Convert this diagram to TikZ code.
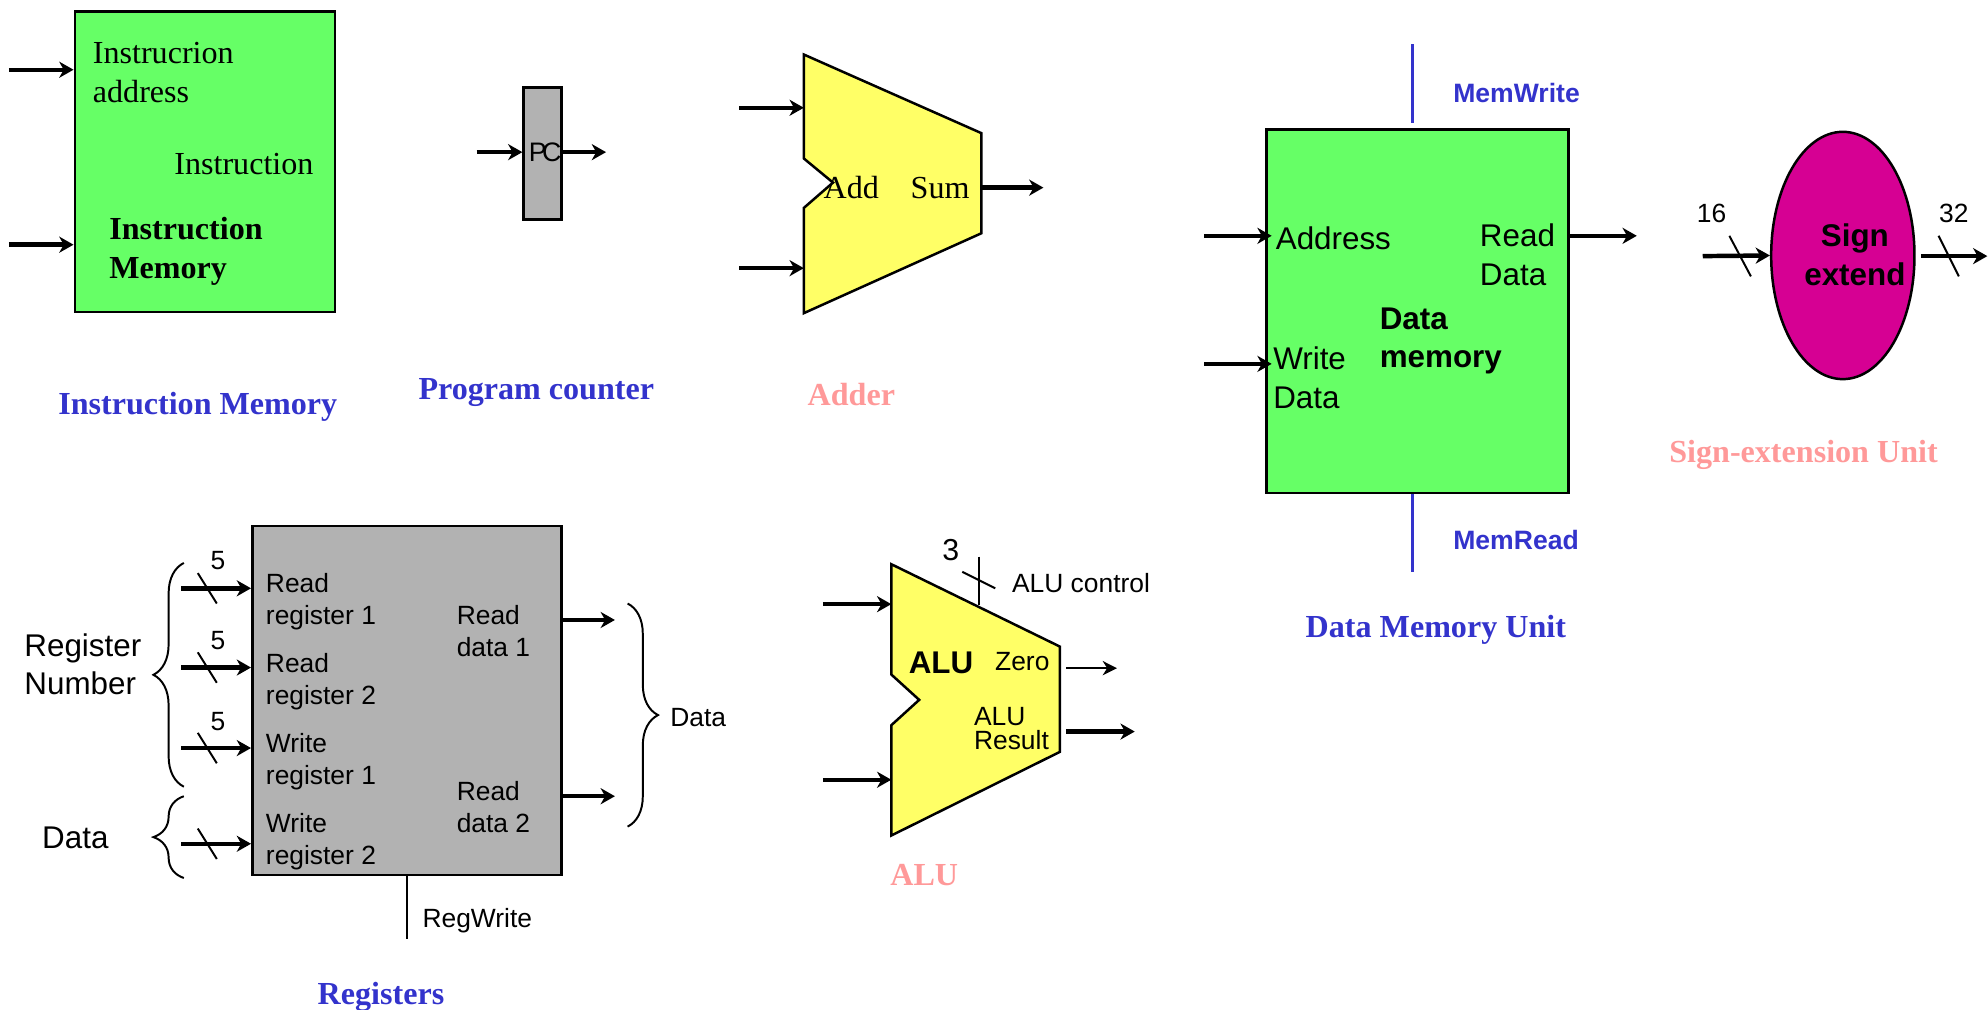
\documentclass[tikz,border=0pt]{standalone}
\usepackage{fontspec}
\setmainfont{Liberation Serif}
\setsansfont{Liberation Sans}
\usetikzlibrary{arrows.meta,decorations.pathreplacing,shapes.geometric}
\definecolor{memgreen}{HTML}{66FF66}
\definecolor{aluyellow}{HTML}{FFFF66}
\definecolor{reggray}{HTML}{B2B2B2}
\definecolor{signpink}{HTML}{D60093}
\definecolor{titleblue}{HTML}{3333CC}
\definecolor{titlerose}{HTML}{FF9999}
\tikzset{
  sigarrow/.style={line width=2.5pt,-{Stealth[length=8pt,width=9pt,inset=2.5pt]}},
  thinarrow/.style={line width=1.2pt,-{Stealth[length=8pt,width=8pt,inset=2.5pt]}},
  slash/.style={line width=1.1pt},
  ctrlwire/.style={line width=1.4pt},
  blockface/.style={draw=black,line width=1.4pt,inner sep=0pt},
  brace/.style={draw,line width=1.1pt,decorate,decoration={brace,amplitude=0.6cm}},
  serifbig/.style={inner sep=0pt,align=left,font=\fontsize{18}{22}\selectfont},
  seriftitle/.style={inner sep=0pt,font=\fontsize{18}{22}\selectfont\bfseries},
  sansbig/.style={inner sep=0pt,align=left,font=\fontsize{17.6}{21.5}\selectfont\sffamily},
  sanssmall/.style={inner sep=0pt,align=left,font=\fontsize{14.8}{18}\selectfont\sffamily},
  ctrltext/.style={inner sep=0pt,text=titleblue,font=\fontsize{14.9}{18}\selectfont\sffamily\bfseries}
}
\begin{document}
\begin{tikzpicture}[x=0.025cm,y=0.025cm]
\useasboundingbox (0,0) rectangle (1568,-796);
\node (imem) [blockface,fill=memgreen,minimum width=5.125cm,minimum height=5.925cm] at (161.5,-127.5) {};
\coordinate (imem in1) at (7,-55);
\coordinate (imem in2) at (7,-193);
\draw [sigarrow] (imem in1) -- (imem in1 -| imem.west);
\draw [sigarrow] (imem in2) -- (imem in2 -| imem.west);
\node (imem addr) [serifbig,anchor=west] at (73,-57) {Instrucrion\\address};
\node (imem out) [serifbig,anchor=east] at (247.5,-129) {Instruction};
\node (imem name) [serifbig,anchor=west,font=\fontsize{18}{22}\selectfont\bfseries] at (86,-198) {Instruction\\Memory};
\node (imem title) [seriftitle,text=titleblue] at (156,-320.5) {Instruction Memory};
\node (pc) [blockface,fill=reggray,minimum width=0.75cm,minimum height=2.6cm] at (428,-121) {};
\coordinate (pc in) at (376,-120);
\coordinate (pc out) at (478,-120);
\draw [sigarrow] (pc in) -- (pc in -| pc.west);
\draw [sigarrow] (pc in -| pc.east) -- (pc out);
\node (pc text) [inner sep=0pt,font=\fontsize{15}{18}\selectfont\sffamily] at (430,-120) {P\kern-2.5pt C};
\node (pc title) [seriftitle,text=titleblue] at (423,-309.5) {Program counter};
\coordinate (add top) at (634,-43);
\coordinate (add in1) at (583,-85);
\coordinate (add in2) at (583,-211.5);
\coordinate (add out) at (823,-148);
\draw [black,line width=1.4pt,fill=aluyellow] (add top) -- (774,-105) -- (774,-184) -- (634,-247) -- (634,-164) -- (657,-144) -- (634,-125) -- cycle;
\draw [sigarrow] (add in1) -- (add in1 -| add top);
\draw [sigarrow] (add in2) -- (add in2 -| add top);
\coordinate (add edge) at (774,-148);
\draw [sigarrow] (add edge) -- (add out);
\node (add text) [serifbig] at (671.5,-148) {Add};
\node (sum text) [serifbig] at (741.5,-148) {Sum};
\node (add title) [seriftitle,text=titlerose] at (671.5,-311) {Adder};
\node (dmem) [blockface,fill=memgreen,minimum width=5.95cm,minimum height=7.175cm] at (1118,-245.5) {};
\coordinate (dmem w) at (1114,-35);
\coordinate (dmem r) at (1114,-451);
\draw [ctrlwire,titleblue] (dmem w) -- (1114,-97);
\draw [ctrlwire,titleblue] (dmem.south -| dmem r) -- (dmem r);
\node (memwrite) [ctrltext,anchor=west] at (1146,-73) {MemWrite};
\node (memread) [ctrltext,anchor=west] at (1146,-426) {MemRead};
\coordinate (dmem in1) at (950,-186);
\coordinate (dmem in2) at (950,-287);
\coordinate (dmem out) at (1291,-186);
\coordinate (dmem tip1) at (1003,-186);
\coordinate (dmem tip2) at (1003,-287);
\draw [sigarrow] (dmem in1) -- (dmem tip1);
\draw [sigarrow] (dmem in2) -- (dmem tip2);
\draw [sigarrow] (dmem out -| dmem.east) -- (dmem out);
\node (dmem addr) [sansbig,anchor=west] at (1006,-188) {Address};
\node (dmem rd) [sansbig,anchor=west] at (1167,-201) {Read\\Data};
\node (dmem wd) [sansbig,anchor=west] at (1004,-298) {Write\\Data};
\node (dmem name) [sansbig,anchor=west,font=\fontsize{17.6}{21.5}\selectfont\sffamily\bfseries] at (1088,-269) {Data\\memory};
\node (dmem title) [seriftitle,text=titleblue] at (1132.5,-497) {Data Memory Unit};
\node (sext) [draw=black,line width=1.4pt,fill=signpink,ellipse,minimum width=2.825cm,minimum height=4.875cm,inner sep=0pt] at (1453.5,-201.5) {};
\coordinate (sext in) at (1343,-202);
\coordinate (sext o1) at (1515,-202);
\coordinate (sext o2) at (1567.5,-202);
\draw [sigarrow] (sext in) -- (sext.west);
\draw [sigarrow] (sext o1) -- (sext o2);
\draw [slash] (1364,-186) -- (1381,-218);
\draw [slash] (1529,-186) -- (1545,-218);
\node (n16) [sanssmall] at (1350,-168) {16};
\node (n32) [sanssmall] at (1541,-168) {32};
\node (sext text) [sansbig,align=center,font=\fontsize{17.6}{21.5}\selectfont\sffamily\bfseries] at (1463,-201) {Sign\\extend};
\node (sext title) [seriftitle,text=titlerose] at (1422.5,-358.5) {Sign-extension Unit};
\node (regs) [blockface,fill=reggray,minimum width=6.1cm,minimum height=6.875cm] at (321,-552.5) {};
\coordinate (rr1) at (143,-464);
\coordinate (rr2) at (143,-526.5);
\coordinate (wr1) at (143,-590);
\coordinate (wr2) at (143,-665.5);
\foreach \p/\q in {rr1/464,rr2/526.5,wr1/590,wr2/665.5} {
  \draw [sigarrow] (\p) -- (\p -| regs.west);
  \draw [slash] (156,-\q+12) -- (171,-\q-12);
}
\node (n5a) [sanssmall] at (172,-442) {5};
\node (n5b) [sanssmall] at (172,-505) {5};
\node (n5c) [sanssmall] at (172,-569) {5};
\node (rr1 text) [sanssmall,anchor=west] at (209.5,-474.5) {Read\\register 1};
\node (rr2 text) [sanssmall,anchor=west] at (209.5,-537.5) {Read\\register 2};
\node (wr1 text) [sanssmall,anchor=west] at (209.5,-600.5) {Write\\register 1};
\node (wr2 text) [sanssmall,anchor=west] at (209.5,-663.5) {Write\\register 2};
\node (rd1 text) [sanssmall,anchor=west] at (360,-497.5) {Read\\data 1};
\node (rd2 text) [sanssmall,anchor=west] at (360,-636.5) {Read\\data 2};
\coordinate (rd1) at (485,-489);
\coordinate (rd2) at (485,-628);
\draw [sigarrow] (rd1 -| regs.east) -- (rd1);
\draw [sigarrow] (rd2 -| regs.east) -- (rd2);
\coordinate (regwrite) at (321,-741);
\draw [ctrlwire] (regs.south) -- (regwrite);
\node (regwrite text) [sanssmall,anchor=west] at (333,-726) {RegWrite};
\draw [brace] (145,-620.5) -- (145,-444);
\draw [brace] (145,-692.5) -- (145,-628);
\draw [brace] (495,-476) -- (495,-652);
\node (regnum) [sansbig,anchor=west] at (19,-524) {Register\\Number};
\node (data l) [sansbig,anchor=west] at (33,-661) {Data};
\node (data r) [sanssmall,anchor=west] at (528.5,-566) {Data};
\node (regs title) [seriftitle,text=titleblue] at (300.5,-786.5) {Registers};
\coordinate (alu top) at (703,-445);
\coordinate (alu in1) at (649,-476.5);
\coordinate (alu in2) at (649,-615);
\draw [black,line width=1.4pt,fill=aluyellow] (alu top) -- (836,-510) -- (836,-593) -- (703,-659) -- (703,-572) -- (725,-552) -- (703,-532) -- cycle;
\draw [sigarrow] (alu in1) -- (alu in1 -| alu top);
\draw [sigarrow] (alu in2) -- (alu in2 -| alu top);
\coordinate (zero a) at (841,-527);
\coordinate (zero b) at (881,-527);
\coordinate (res a) at (841,-577);
\coordinate (res b) at (895,-577);
\draw [thinarrow] (zero a) -- (zero b);
\draw [sigarrow] (res a) -- (res b);
\coordinate (alu c1) at (772,-439);
\coordinate (alu c2) at (772,-477);
\draw [ctrlwire] (alu c1) -- (alu c2);
\draw [slash] (759,-451) -- (785,-464);
\node (n3) [inner sep=0pt,font=\fontsize{17}{20}\selectfont\sffamily] at (750,-434) {3};
\node (alu ctrl) [sanssmall,anchor=west] at (798,-460) {ALU control};
\node (alu name) [sansbig,anchor=west,font=\fontsize{17.6}{21.5}\selectfont\sffamily\bfseries] at (716.5,-523) {ALU};
\node (alu zero) [sanssmall,anchor=east] at (828,-522) {Zero};
\node (alu res) [sanssmall,anchor=west,font=\fontsize{14.8}{13.5}\selectfont\sffamily] at (768,-574.5) {ALU\\Result};
\node (alu title) [seriftitle,text=titlerose] at (729,-690) {ALU};
\end{tikzpicture}
\end{document}
